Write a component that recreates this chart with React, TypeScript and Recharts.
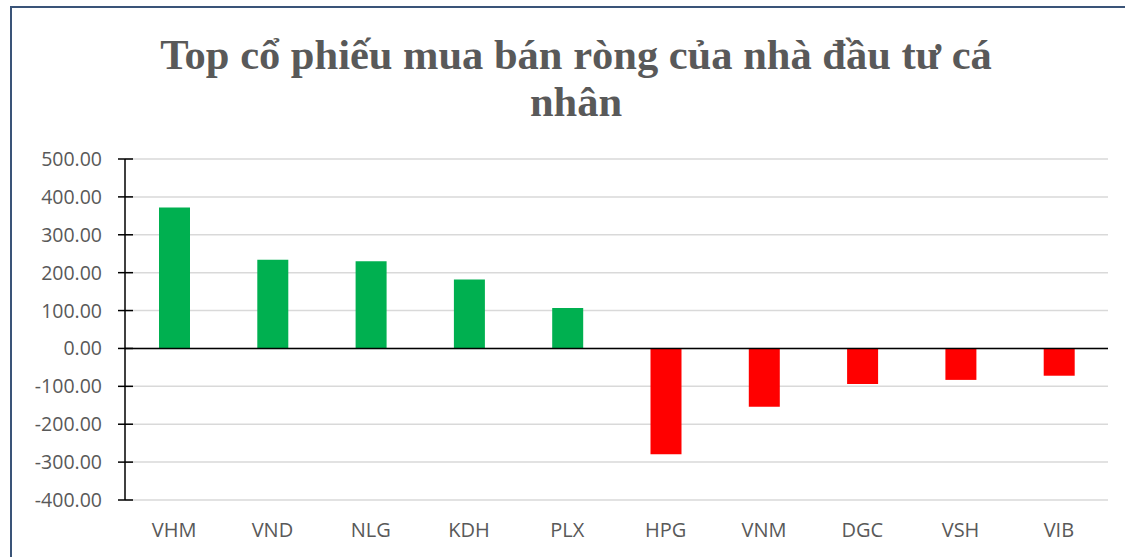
import { BarChart, Bar, XAxis, YAxis, CartesianGrid, ReferenceLine, Cell } from "recharts";

const categories = ["VHM", "VND", "NLG", "KDH", "PLX", "HPG", "VNM", "DGC", "VSH", "VIB"];
const netValues = [372, 234, 230, 182, 107, -279, -154, -94, -83, -72];
const yTicks = [-400, -300, -200, -100, 0, 100, 200, 300, 400, 500];

const titleLines = ["Top cổ phiếu mua bán ròng của nhà đầu tư cá", "nhân"];

const data = categories.map((name, i) => ({ name, value: netValues[i] }));

const TEXT = "#595959";
const FONT = "'Open Sans', sans-serif";

const YTick = ({ y, payload }: { y?: number; payload?: { value: number } }) => (
  <g>
    <line x1={118} x2={133} y1={y} y2={y} stroke="#000" strokeWidth={1.5} />
    <text x={102} y={y} dy={7} textAnchor="end" fill={TEXT} fontSize={19.5} fontFamily={FONT}>
      {(payload?.value ?? 0).toFixed(2)}
    </text>
  </g>
);

export default function App() {
  return (
    <div
      style={{
        position: "absolute",
        left: 0,
        top: 0,
        width: 1125,
        height: 557,
        overflow: "hidden",
        background: "#fff",
      }}
    >
      <div
        style={{
          position: "absolute",
          left: 10,
          top: 6,
          width: 1200,
          height: 700,
          border: "2px solid #3A5478",
        }}
      />
      <div
        style={{
          position: "absolute",
          left: 0,
          top: 31,
          width: 1152,
          textAlign: "center",
          fontFamily: "'Liberation Serif', 'Times New Roman', serif",
          fontWeight: 700,
          fontSize: 42.5,
          lineHeight: "47px",
          color: TEXT,
        }}
      >
        {titleLines.map((t) => (
          <div key={t}>{t}</div>
        ))}
      </div>
      <div style={{ position: "absolute", left: 0, top: 0 }}>
        <BarChart
          width={1125}
          height={557}
          data={data}
          margin={{ top: 159, right: 17, bottom: 0, left: 0 }}
          barSize={31}
        >
          <CartesianGrid vertical={false} stroke="#D9D9D9" strokeWidth={1.5} />
          <XAxis
            dataKey="name"
            axisLine={false}
            tickLine={false}
            height={57}
            tickMargin={17}
            interval={0}
            tick={{ fill: TEXT, fontSize: 20, fontFamily: FONT }}
          />
          <YAxis
            width={125}
            domain={[-400, 500]}
            ticks={yTicks}
            interval={0}
            allowDataOverflow
            axisLine={{ stroke: "#000", strokeWidth: 1.5 }}
            tickLine={false}
            tick={<YTick />}
          />
          <ReferenceLine y={0} stroke="#000" strokeWidth={1.5} />
          <Bar dataKey="value" isAnimationActive={false}>
            {data.map((d) => (
              <Cell key={d.name} fill={d.value >= 0 ? "#00B050" : "#FF0000"} />
            ))}
          </Bar>
        </BarChart>
      </div>
    </div>
  );
}
